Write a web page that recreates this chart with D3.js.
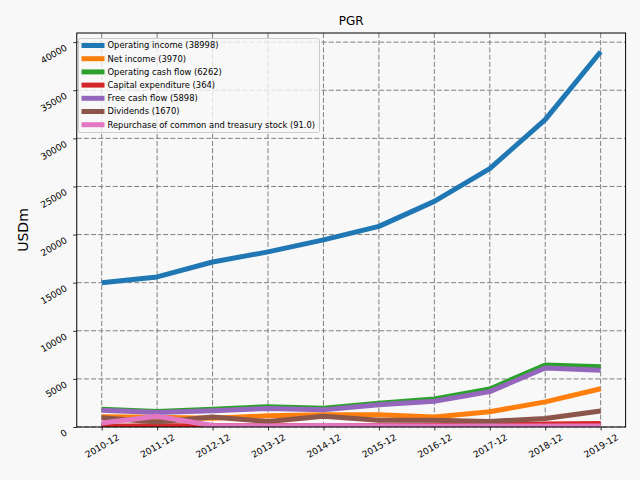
<!DOCTYPE html>
<html>
<head>
<meta charset="utf-8">
<script src="https://cdn.jsdelivr.net/npm/d3@7"></script>
<style>
  body { margin: 0; background: #f8f8f8; }
  text { font-family: "DejaVu Sans", sans-serif; fill: #000; }
</style>
</head>
<body>
<div id="chart"></div>
<script>
// PGR yearly figures, USD millions
const periods = ["2010-12", "2011-12", "2012-12", "2013-12", "2014-12",
  "2015-12", "2016-12", "2017-12", "2018-12", "2019-12"];

const operatingIncome = [15000, 15600, 17150, 18200, 19450, 20850, 23450, 26850, 31950, 38998];
const netIncome = [1070, 1020, 900, 1170, 1280, 1270, 1030, 1590, 2615, 3970];
const operatingCashFlow = [1840, 1620, 1840, 2110, 1960, 2480, 2910, 3950, 6450, 6262];
const capitalExpenditure = [80, 120, 130, 120, 140, 150, 180, 250, 300, 364];
const freeCashFlow = [1730, 1500, 1690, 1920, 1780, 2310, 2680, 3680, 6130, 5898];
const dividends = [970, 520, 1040, 560, 1120, 700, 690, 580, 880, 1670];
const repurchase = [420, 1120, 150, 110, 150, 120, 100, 100, 110, 91.0];

const seriesNames = ["Operating income (38998)", "Net income (3970)",
  "Operating cash flow (6262)", "Capital expenditure (364)", "Free cash flow (5898)",
  "Dividends (1670)", "Repurchase of common and treasury stock (91.0)"];
const seriesValues = [operatingIncome, netIncome, operatingCashFlow,
  capitalExpenditure, freeCashFlow, dividends, repurchase];
const yTicks = [0, 5000, 10000, 15000, 20000, 25000, 30000, 35000, 40000];

const colors = ["#1f77b4", "#ff7f0e", "#2ca02c", "#d62728", "#9467bd", "#8c564b", "#e377c2"];

const width = 640, height = 480;
const plotLeft = 76.75, plotRight = 625.6, plotTop = 33, plotBottom = 427;

const svg = d3.select("#chart").append("svg")
  .attr("width", width)
  .attr("height", height);

svg.append("rect").attr("width", width).attr("height", height).attr("fill", "#f8f8f8");

const x = d3.scalePoint().domain(periods).range([plotLeft, plotRight]).padding(0.45);
const y = d3.scaleLinear().domain([0, 40950]).range([plotBottom, plotTop]);

// grid
const grid = svg.append("g").attr("stroke", "#808080").attr("stroke-width", 1)
  .attr("stroke-dasharray", "5,2.2");
grid.selectAll("line.gx").data(periods).join("line")
  .attr("class", "gx")
  .attr("x1", (d) => x(d)).attr("x2", (d) => x(d))
  .attr("y1", plotTop).attr("y2", plotBottom);
grid.selectAll("line.gy").data(yTicks).join("line")
  .attr("class", "gy")
  .attr("x1", plotLeft).attr("x2", plotRight)
  .attr("y1", (d) => y(d)).attr("y2", (d) => y(d));

// lines
svg.append("clipPath").attr("id", "clip").append("rect")
  .attr("x", plotLeft).attr("y", plotTop)
  .attr("width", plotRight - plotLeft).attr("height", plotBottom - plotTop);
const plot = svg.append("g").attr("clip-path", "url(#clip)");

const line = d3.line().x((_, i) => x(periods[i])).y((d) => y(d));
seriesValues.forEach((vals, i) => {
  plot.append("path")
    .attr("d", line(vals))
    .attr("fill", "none")
    .attr("stroke", colors[i])
    .attr("stroke-width", 5)
    .attr("stroke-linejoin", "round");
});

// axes
const xAxis = svg.append("g").attr("transform", `translate(0,${plotBottom})`)
  .call(d3.axisBottom(x).tickSize(3.5).tickSizeOuter(0));
xAxis.selectAll("text")
  .attr("font-size", 9)
  .attr("text-anchor", "middle")
  .attr("dy", null)
  .attr("y", null)
  .attr("dominant-baseline", "central")
  .attr("transform", "translate(0,19) rotate(-30)");

const yAxis = svg.append("g").attr("transform", `translate(${plotLeft},0)`)
  .call(d3.axisLeft(y).tickValues(yTicks).tickFormat(d3.format("d"))
    .tickSize(3.5).tickSizeOuter(0));
yAxis.selectAll("text")
  .attr("font-size", 9)
  .attr("text-anchor", "end")
  .attr("x", null)
  .attr("dy", null)
  .attr("transform", "translate(-9,7) rotate(-30)");

svg.selectAll(".domain").remove();
svg.selectAll(".tick line").attr("stroke", "#000").attr("stroke-width", 0.8);

svg.append("rect")
  .attr("x", plotLeft).attr("y", plotTop)
  .attr("width", plotRight - plotLeft).attr("height", plotBottom - plotTop)
  .attr("fill", "none").attr("stroke", "#000").attr("stroke-width", 1);

// title & label
svg.append("text")
  .attr("x", (plotLeft + plotRight) / 2).attr("y", 25)
  .attr("text-anchor", "middle").attr("font-size", 12)
  .text("PGR");

svg.append("text")
  .attr("transform", `translate(27.5,${(plotTop + plotBottom) / 2}) rotate(-90)`)
  .attr("text-anchor", "middle").attr("font-size", 14)
  .text("USDm");

// legend
const legend = svg.append("g").attr("transform", "translate(78.5,38.5)");
legend.append("rect")
  .attr("width", 241).attr("height", 94).attr("rx", 2)
  .attr("fill", "#f8f8f8").attr("fill-opacity", 0.8)
  .attr("stroke", "#cccccc").attr("stroke-width", 1);

const items = legend.selectAll("g.item").data(seriesNames).join("g")
  .attr("class", "item")
  .attr("transform", (_, i) => `translate(0,${7 + i * 13.2})`);
items.append("line")
  .attr("x1", 3).attr("x2", 26)
  .attr("stroke", (_, i) => colors[i]).attr("stroke-width", 5);
items.append("text")
  .attr("x", 29).attr("dy", "0.35em").attr("font-size", 8.4)
  .text((d) => d);
</script>
</body>
</html>
